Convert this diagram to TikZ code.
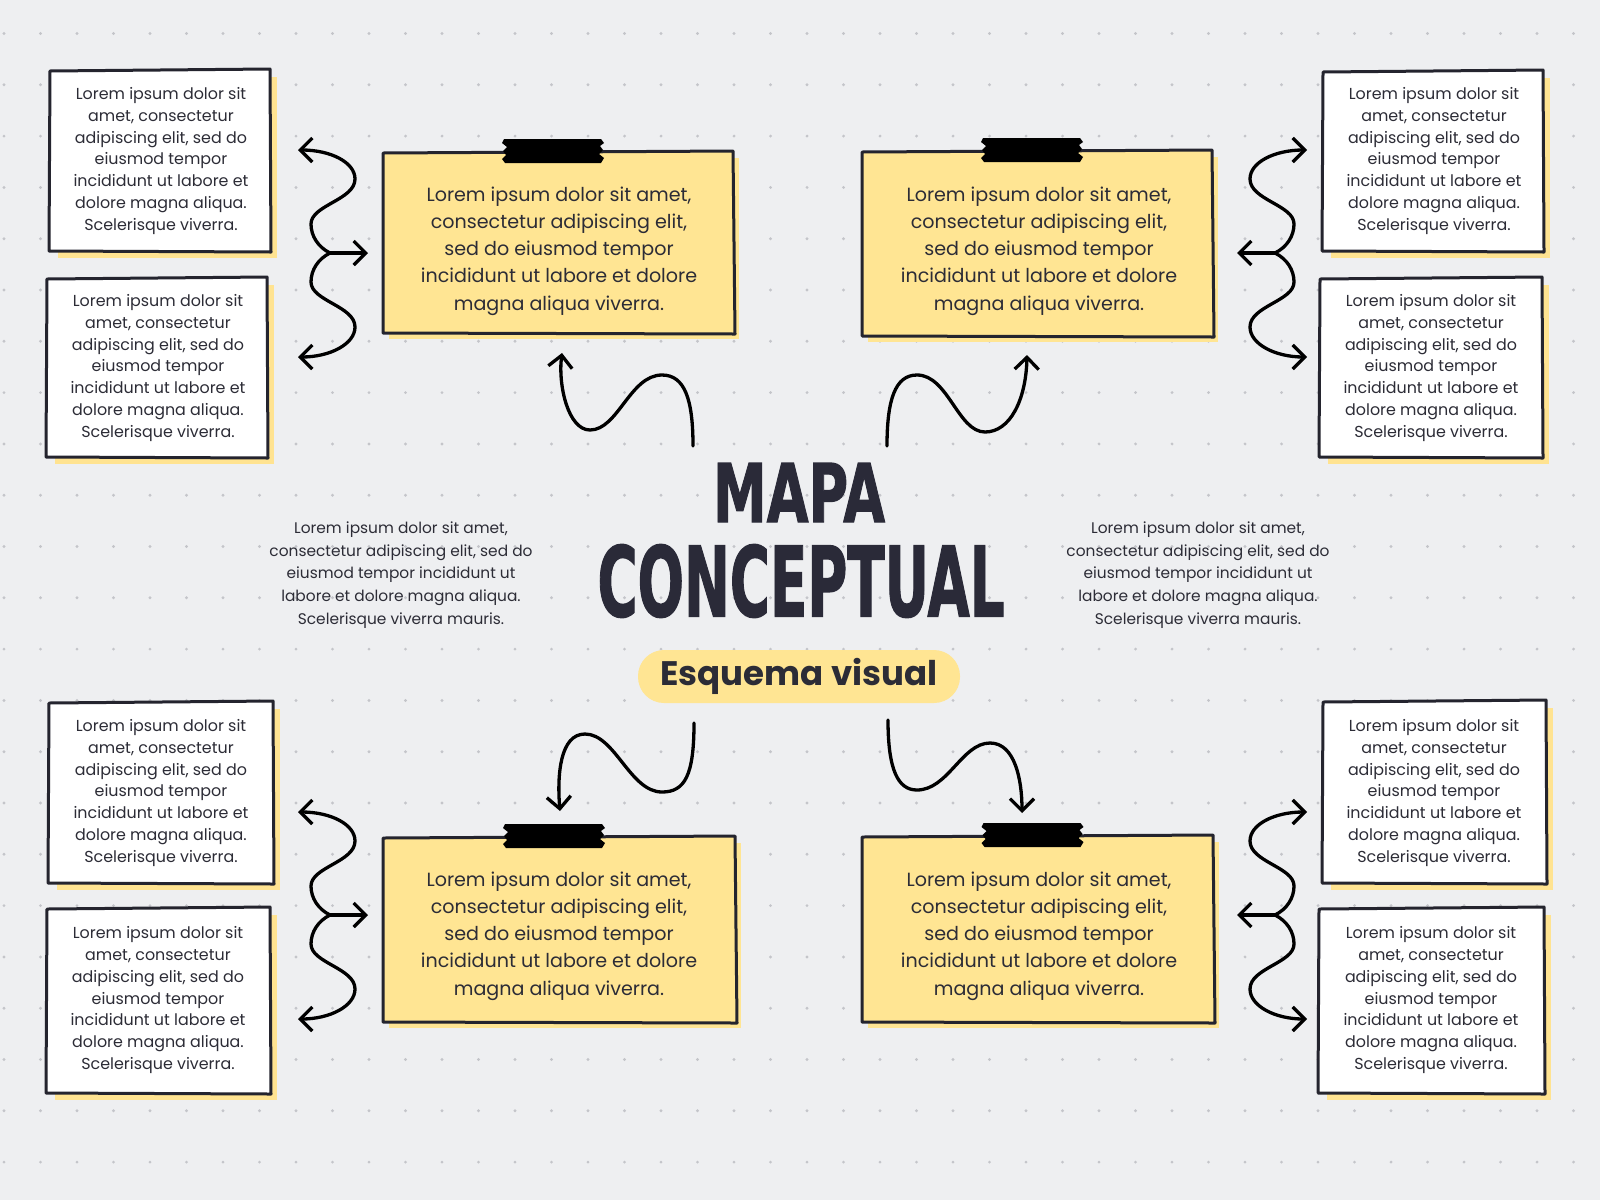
\documentclass[tikz,border=0pt]{standalone}
\usepackage{fontspec}
\setmainfont{Poppins}
\newfontfamily\titlefont{DejaVu Sans}[BoldFeatures={FakeBold=1.6}]
\usetikzlibrary{arrows.meta,calc}
\definecolor{bgc}{HTML}{EEEFF1}
\definecolor{dotc}{HTML}{C4C5CA}
\definecolor{padc}{HTML}{FFE593}
\definecolor{shadc}{HTML}{FFE391}
\definecolor{inkc}{HTML}{24242E}
\definecolor{textc}{HTML}{2C2C36}
\definecolor{titlec}{HTML}{2A2A38}
\tikzset{
  smalltext/.style={text=textc,align=center,inner sep=0pt,font=\fontsize{15.9}{21.8}\selectfont},
  padtext/.style={text=textc,align=center,inner sep=0pt,font=\fontsize{19.1}{27.2}\selectfont},
  sidetext/.style={text=textc,align=center,inner sep=0pt,font=\fontsize{15.4}{22.8}\selectfont},
  border/.style={draw=inkc,line width=3pt,line join=round},
  wave/.style={draw=black,line width=3.3pt,line cap=round,-{Straight Barb[length=12pt,width=24pt]}},
  waveline/.style={draw=black,line width=3.3pt,line cap=round}
}
\newcommand\tapestrip[2]{%
  \begin{scope}[shift={({#1},{#2})}]
    \fill[black] (-49,-12) -- (48,-12) -- (51,-8) -- (47,-5) -- (50,-1) -- (46,3) -- (51,7) -- (48,12)
      -- (-48,12) -- (-51,8) -- (-47,4) -- (-50,0) -- (-46,-4) -- (-51,-8) -- cycle;
  \end{scope}}
\newcommand\yellowpad[8]{%
  \fill[padc] ({#2+6},{#3+6}) rectangle ({#4+6},{#5+6});
  \filldraw[fill=padc,border] ({#2},{#3+1}) -- ({#4},{#3-1}) -- ({#4+2},{#5+1}) -- ({#2},{#5}) -- cycle;
  \tapestrip{(#2+#4)/2-5}{#3-1}
  \node[padtext] (#1) at (#6,#7) {#8};
}
\newcommand\whitebox[8]{%
  \fill[shadc] ({#2+8},{#3+7}) rectangle ({#4+7},{#5+6});
  \filldraw[fill=white,border] ({#2},{#3+1}) -- ({#4},{#3-1}) -- ({#4+1},{#5}) -- ({#2-1},{#5-1}) -- cycle;
  \node[smalltext] (#1) at (#6,#7) {#8};
}
\newcommand\smalltxt{Lorem ipsum dolor sit\\amet, consectetur\\adipiscing elit, sed do\\eiusmod tempor\\incididunt ut labore et\\dolore magna aliqua.\\Scelerisque viverra.}
\newcommand\padtxt{Lorem ipsum dolor sit amet,\\consectetur adipiscing elit,\\sed do eiusmod tempor\\incididunt ut labore et dolore\\magna aliqua viverra.}
\newcommand\sidetxt{Lorem ipsum dolor sit amet,\\consectetur adipiscing elit, sed do\\eiusmod tempor incididunt ut\\labore et dolore magna aliqua.\\Scelerisque viverra mauris.}
\newcommand\wavy[4]{% prefix, x, y, xscale
  \begin{scope}[shift={(#2,#3)},xscale=#4]
    \coordinate (#1j) at (0,0);
    \coordinate (#1m) at (38,0);
    \coordinate (#1t) at (-32,-103);
    \coordinate (#1b) at (-32,104);
    \draw[wave] (#1j) -- (#1m);
    \draw[wave] (#1j) .. controls (-12,-6) and (-19,-17) .. (-19,-29)
      .. controls (-19,-48) and (25,-53) .. (25,-74)
      .. controls (25,-91) and (0,-103) .. (#1t);
    \draw[wave] (#1j) .. controls (-12,6) and (-19,17) .. (-19,29)
      .. controls (-19,48) and (25,53) .. (25,74)
      .. controls (25,91) and (0,104) .. (#1b);
  \end{scope}}
\begin{document}
\begin{tikzpicture}[x=1pt,y=-1pt]
\fill[bgc] (0,0) rectangle (1600,1200);
\useasboundingbox (0,0) rectangle (1600,1200);
\foreach \i in {0,...,43}{\foreach \j in {0,...,22}{\fill[dotc] ({4+36.5*\i},{33.5+51.3*\j}) circle (1.6);}}

% white boxes
\whitebox{tl1}{50}{70}{270}{252}{161}{161}{\smalltxt}
\whitebox{tl2}{47}{278}{267}{458}{158}{368}{\smalltxt}
\whitebox{tr1}{1323}{71}{1543}{252}{1434}{161}{\smalltxt}
\whitebox{tr2}{1320}{278}{1542}{458}{1431}{368}{\smalltxt}
\whitebox{bl1}{49}{702}{273}{884}{161}{793}{\smalltxt}
\whitebox{bl2}{47}{908}{270}{1094}{158}{1000}{\smalltxt}
\whitebox{br1}{1323}{701}{1546}{884}{1434}{793}{\smalltxt}
\whitebox{br2}{1319}{908}{1544}{1094}{1431}{1000}{\smalltxt}

% yellow pads
\yellowpad{ptl}{383}{152}{733}{333}{559}{251}{\padtxt}
\yellowpad{ptr}{862}{151}{1212}{336}{1039}{251}{\padtxt}
\yellowpad{pbl}{383}{837}{735}{1022}{559}{936}{\padtxt}
\yellowpad{pbr}{862}{836}{1213}{1022}{1039}{936}{\padtxt}

% title
\node[text=titlec,inner sep=0pt] (title1) at (799,492.5) {\resizebox{172pt}{59pt}{\titlefont\bfseries MAPA}};
\node[text=titlec,inner sep=0pt] (title2) at (801,581) {\resizebox{407pt}{72pt}{\titlefont\bfseries CONCEPTUAL}};
\node[fill=padc,rounded corners=26pt,minimum width=322pt,minimum height=53pt,inner sep=0pt,text=textc,font=\fontsize{34}{34}\selectfont\bfseries] (sub) at (799,676.5) {Esquema visual};

% side texts
\node[sidetext] (sidel) at (401,575) {\sidetxt};
\node[sidetext] (sider) at (1198,575) {\sidetxt};

% wavy double connectors
\wavy{wl1}{330}{253}{1}
\wavy{wr1}{1275}{253}{-1}
\wavy{wl2}{330}{915}{1}
\wavy{wr2}{1275}{915}{-1}

% central connectors
\coordinate (c1) at (693,446);
\coordinate (c2) at (887,446);
\coordinate (c3) at (694,723);
\coordinate (c4) at (888,720);
\coordinate (e1) at (562,353);
\coordinate (e2) at (1027,355);
\coordinate (e3) at (560,811);
\coordinate (e4) at (1022,813);
\draw[wave] (c1) .. controls (693,400) and (685,375) .. (662,375)
  .. controls (630,375) and (618,430) .. (590,430)
  .. controls (568,430) and (558,385) .. (e1);
\draw[wave] (c2) .. controls (887,400) and (895,375) .. (917,375)
  .. controls (948,375) and (958,432) .. (985,432)
  .. controls (1010,432) and (1026,400) .. (e2);
\draw[wave] (c3) .. controls (694,775) and (685,792) .. (662,792)
  .. controls (630,792) and (615,734) .. (585,734)
  .. controls (560,734) and (557,775) .. (e3);
\draw[wave] (c4) .. controls (888,770) and (898,790) .. (917,790)
  .. controls (948,790) and (962,743) .. (990,743)
  .. controls (1015,743) and (1022,780) .. (e4);
\end{tikzpicture}
\end{document}
